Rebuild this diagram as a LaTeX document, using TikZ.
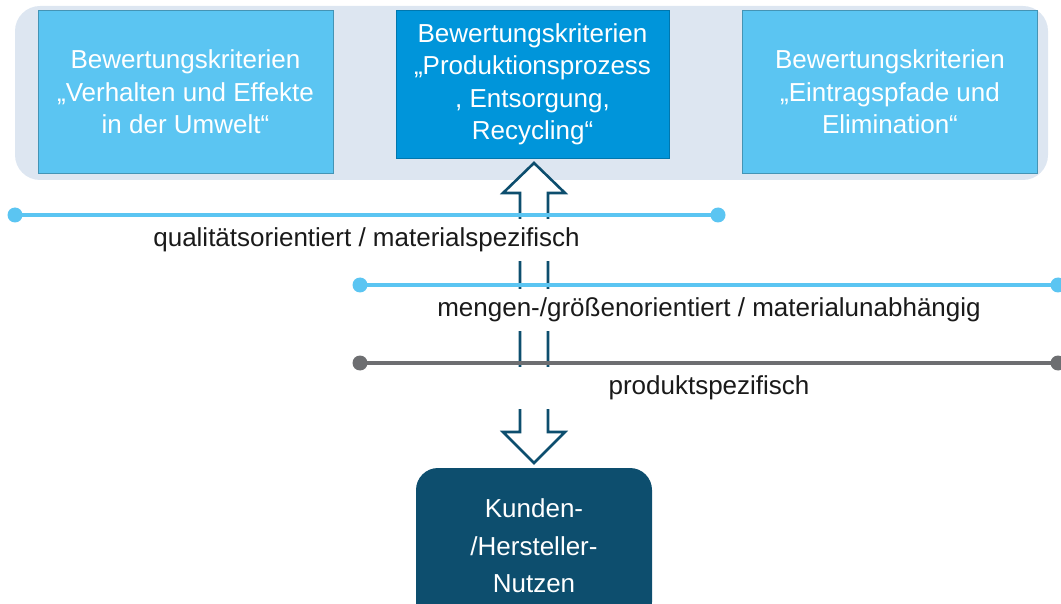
\documentclass[tikz,border=0pt]{standalone}
\usepackage{fontspec}
\setmainfont{Liberation Sans}
\usetikzlibrary{positioning}
\definecolor{hellblau}{HTML}{5BC5F2}
\definecolor{mittelblau}{HTML}{0095DA}
\definecolor{dunkelblau}{HTML}{0D4E6E}
\definecolor{rahmen}{HTML}{DDE6F1}
\definecolor{grau}{HTML}{6D6E71}
\definecolor{schrift}{HTML}{1A1A1A}

\begin{document}
\begin{tikzpicture}[x=1pt,y=-1pt,
    every node/.style={font=\fontsize{26}{32.5}\selectfont},
    kriterium/.style={draw=hellblau!75!black,line width=0.8pt,fill=hellblau,text=white,
      align=center,minimum width=295pt,minimum height=163pt,inner sep=0pt,anchor=north},
    prozess/.style={kriterium,draw=mittelblau!80!black,fill=mittelblau,
      minimum width=273pt,minimum height=148pt},
    nutzen/.style={fill=dunkelblau,text=white,align=center,rounded corners=22pt,
      minimum width=236pt,minimum height=156pt,font=\fontsize{26}{37.5}\selectfont},
    pfeil/.style={draw=dunkelblau,line width=2.6pt,fill=white,line join=miter},
    regel/.style={line width=4pt},
    regeltext/.style={fill=white,text=schrift,inner sep=0pt,minimum height=42pt,below=2pt}]
    \useasboundingbox (0,0) rectangle (1061,604);
    \fill[rahmen,rounded corners=25pt] (15,6) rectangle (1048,180);

    \node[kriterium] (umwelt) at (185.5,10) {Bewertungskriterien\\„Verhalten und Effekte\\in der Umwelt“};
    \node[prozess] (produktion) at (532.5,10) {Bewertungskriterien\\„Produktionsprozess\\, Entsorgung,\\Recycling“};
    \node[kriterium] (eintrag) at (890,10) {Bewertungskriterien\\„Eintragspfade und\\Elimination“};
    \node[nutzen] (kunden) at (534,546) {Kunden-\\/Hersteller-\\Nutzen};

    \coordinate (up) at (534,163);
    \coordinate (down) at (534,463);
    \draw[pfeil] (up) -- ++(31,30) -- ++(-17,0) -- ++(0,239) -- ++(17,0) -- (down)
      -- ++(-31,-31) -- ++(17,0) -- ++(0,-239) -- ++(-17,0) -- cycle;

    \coordinate (q1) at (15,215);
    \coordinate (q2) at (718,215);
    \coordinate (m1) at (360,285);
    \coordinate (m2) at (1058,285);
    \coordinate (p1) at (360,363);
    \coordinate (p2) at (1058,363);

    \draw[regel,hellblau] (q1) -- node[regeltext,minimum width=703pt] (qlab) {qualitätsorientiert / materialspezifisch} (q2);
    \draw[regel,hellblau] (m1) -- node[regeltext,minimum width=698pt] (mlab) {mengen-/größenorientiert / materialunabhängig} (m2);
    \draw[regel,grau] (p1) -- node[regeltext,minimum width=698pt] (plab) {produktspezifisch} (p2);
    \fill[hellblau] (q1) circle (7.5pt) (q2) circle (7.5pt) (m1) circle (7.5pt) (m2) circle (7.5pt);
    \fill[grau] (p1) circle (7.5pt) (p2) circle (7.5pt);
\end{tikzpicture}
\end{document}
